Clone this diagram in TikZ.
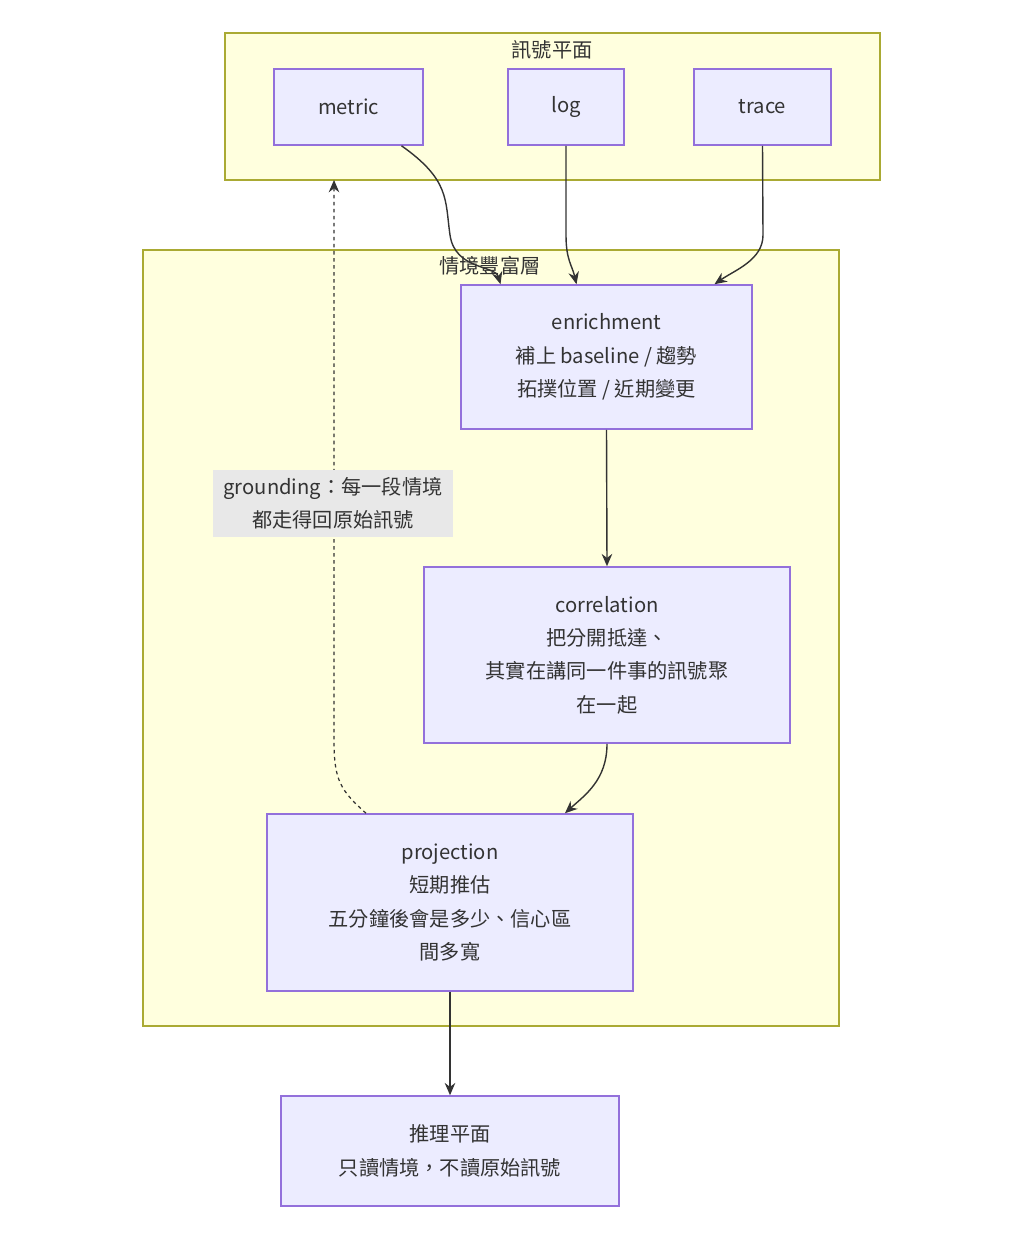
\documentclass[tikz,border=0pt]{standalone}
\usepackage{fontspec}
\setmainfont{Noto Sans CJK TC}
\usetikzlibrary{arrows.meta,calc}
\definecolor{clfill}{HTML}{FFFFDE}
\definecolor{cldraw}{HTML}{AAAA33}
\definecolor{ndfill}{HTML}{ECECFF}
\definecolor{nddraw}{HTML}{9370DB}
\definecolor{ink}{HTML}{333333}
\tikzset{
  box/.style={draw=nddraw,fill=ndfill,line width=0.9pt,align=center,text=ink,
    font=\fontsize{11.5}{19}\selectfont,inner sep=0pt},
  cluster/.style={draw=cldraw,fill=clfill,line width=0.9pt},
  ctitle/.style={text=ink,font=\fontsize{11.5}{19}\selectfont},
  flow/.style={draw=ink,line width=0.8pt,-{Stealth[length=7pt,width=6pt]}},
}
\begin{document}
\begin{tikzpicture}[x=0.02cm,y=-0.02cm]
  \useasboundingbox (0,0) rectangle (1024,1250);
  %clusters
  \draw[cluster] (225,33) rectangle (880,180);
  \node[ctitle] (sigtitle) at (552,50) {訊號平面};
  \draw[cluster] (143,250) rectangle (839,1026);
  \node[ctitle] (ctxtitle) at (490,266) {情境豐富層};
  %signals
  \node[box,minimum width=2.98cm,minimum height=1.52cm] (metric) at (348.5,107) {metric};
  \node[box,minimum width=2.32cm,minimum height=1.52cm] (log) at (566,107) {log};
  \node[box,minimum width=2.74cm,minimum height=1.52cm] (trace) at (762.5,107) {trace};
  %context layer
  \node[box,minimum width=5.82cm,minimum height=2.88cm] (enrich) at (606.5,357)
    {enrichment\\補上 baseline / 趨勢\\拓撲位置 / 近期變更};
  \node[box,minimum width=7.32cm,minimum height=3.52cm] (corr) at (607,655)
    {correlation\\把分開抵達、\\其實在講同一件事的訊號聚\\在一起};
  \node[box,minimum width=7.32cm,minimum height=3.54cm] (proj) at (450,902.5)
    {projection\\短期推估\\五分鐘後會是多少、信心區\\間多寬};
  \node[box,minimum width=6.76cm,minimum height=2.2cm] (reason) at (450,1151)
    {推理平面\\只讀情境，不讀原始訊號};
  %edges
  \draw[flow] ($(metric.south)+(53,0)$) .. controls (450,180) and (445,200) .. (450,235)
    .. controls (455,270) and (495,265) .. ($(enrich.north)+(-106,0)$);
  \draw[flow] (log.south) -- (566,235) .. controls (566,260) and (572,265) .. ($(enrich.north)+(-30,0)$);
  \draw[flow] (trace.south) -- (763,235) .. controls (763,260) and (735,270) .. ($(enrich.north)+(108,0)$);
  \draw[flow] (enrich.south) -- (corr.north);
  \draw[flow] (corr.south) .. controls (607,780) and (585,795) .. ($(proj.north)+(115,0)$);
  \draw[flow] (proj.south) -- (reason.north);
  \draw[flow,dashed,line width=0.7pt,dash pattern=on 2pt off 2pt] ($(proj.north)+(-84,0)$)
    .. controls (340,790) and (334,780) .. (334,740) -- (334,180);
  \node[fill=black!9,text=ink,align=center,minimum width=4.8cm,minimum height=1.34cm,
    inner sep=0pt,font=\fontsize{11.5}{19}\selectfont] (ground) at (333,503.5)
    {grounding：每一段情境\\都走得回原始訊號};
\end{tikzpicture}
\end{document}
